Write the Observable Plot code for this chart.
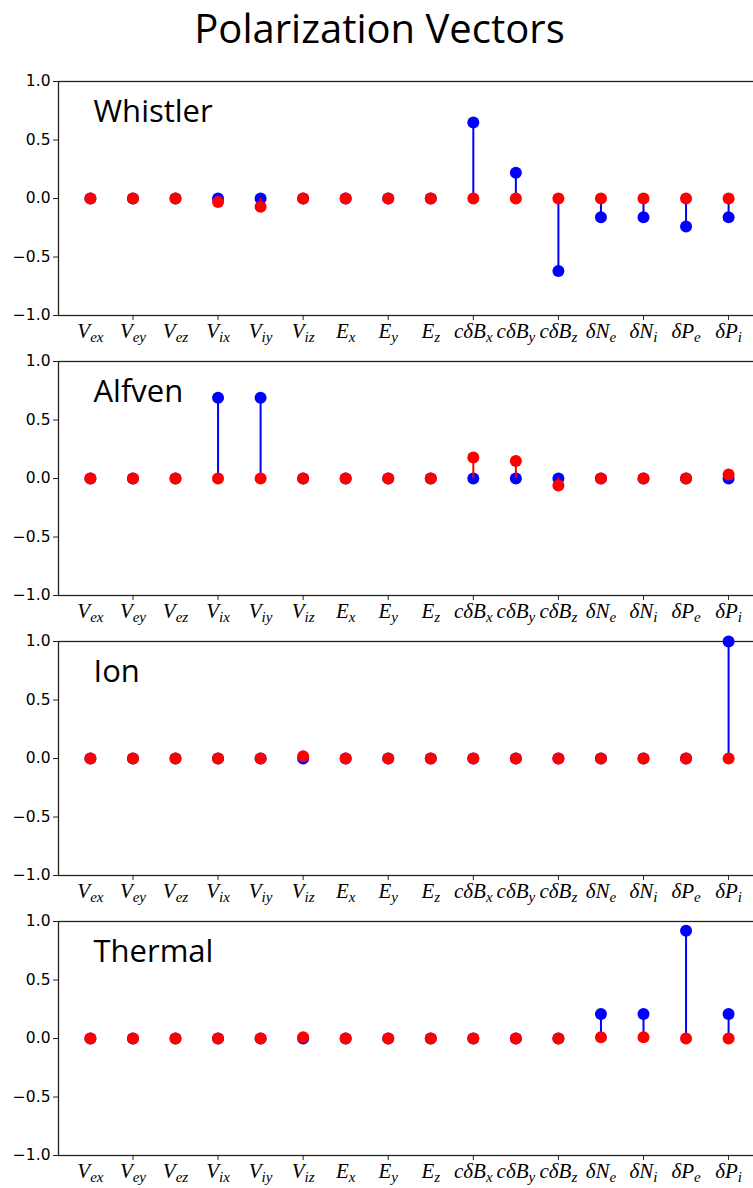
<!DOCTYPE html>
<html>
<head>
<meta charset="utf-8">
<script src="https://cdn.jsdelivr.net/npm/d3@7"></script>
<script src="https://cdn.jsdelivr.net/npm/@observablehq/plot@0.6"></script>
<style>
  html, body { margin: 0; padding: 0; background: #fff; overflow: hidden; }
  #title { width: 753px; height: 65px; text-align: center; font-family: "Open Sans", sans-serif; font-size: 40px; line-height: normal; color: #000; padding-left: 6px; box-sizing: border-box; }
  svg { overflow: visible; }
</style>
</head>
<body>
<div id="title">Polarization Vectors</div>
<div id="chart"></div>
<script>
// Categories (x labels): main symbol + subscript
const labelMain = ["V","V","V","V","V","V","E","E","E","cδB","cδB","cδB","δN","δN","δP","δP"];
const labelSub  = ["ex","ey","ez","ix","iy","iz","x","y","z","x","y","z","e","i","e","i"];
const keys = labelMain.map((m, i) => m + "_" + labelSub[i]);
const tickKeys = keys.filter((k, i) => i % 2 === 1);
const yTicks = [-1, -0.5, 0, 0.5, 1];

const modes = ["Whistler", "Alfven", "Ion", "Thermal"];
// Blue (real part) and red (imaginary part) components
const whistlerRe = [0,0,0,0,0,0,0,0,0,0.65,0.22,-0.62,-0.16,-0.16,-0.24,-0.16];
const whistlerIm = [0,0,0,-0.03,-0.07,0,0,0,0,0,0,0,0,0,0,0];
const alfvenRe   = [0,0,0,0.69,0.69,0,0,0,0,0,0,0,0,0,0,0];
const alfvenIm   = [0,0,0,0,0,0,0,0,0,0.18,0.15,-0.06,0,0,0,0.035];
const ionRe      = [0,0,0,0,0,0,0,0,0,0,0,0,0,0,0,1.0];
const ionIm      = [0,0,0,0,0,0.02,0,0,0,0,0,0,0,0,0,0];
const thermalRe  = [0,0,0,0,0,0,0,0,0,0,0,0,0.21,0.21,0.92,0.21];
const thermalIm  = [0,0,0,0,0,0.01,0,0,0,0,0,0,0.01,0.01,0,0];

const series = [[whistlerRe, whistlerIm],[alfvenRe, alfvenIm],[ionRe, ionIm],[thermalRe, thermalIm]];
const yFmt = d3.format(".1f");

function panel(name, re, im) {
  const dRe = keys.map((k, i) => ({k, v: re[i]}));
  const dIm = keys.map((k, i) => ({k, v: im[i]}));
  const svg = Plot.plot({
    width: 753, height: 280,
    marginTop: 16, marginBottom: 30, marginLeft: 58, marginRight: -7,
    style: {background: "#fff", color: "#000"},
    x: {type: "point", domain: keys, padding: 0.75, round: false, label: null},
    y: {domain: [-1, 1], label: null},
    marks: [
      Plot.frame({stroke: "#222", strokeWidth: 1.3}),
      Plot.ruleX(dRe, {x: "k", y1: 0, y2: "v", stroke: "#0000ff", strokeWidth: 2}),
      Plot.dot(dRe, {x: "k", y: "v", r: 6, fill: "#0000ff"}),
      Plot.ruleY([0], {x1: keys[0], x2: keys[keys.length - 1], stroke: "#000", strokeWidth: 3}),
      Plot.ruleX(dIm, {x: "k", y1: 0, y2: "v", stroke: "#ff0000", strokeWidth: 2}),
      Plot.dot(dIm, {x: "k", y: "v", r: 6, fill: "#ff0000"}),
      Plot.text([name], {frameAnchor: "top-left", textAnchor: "start", lineAnchor: "bottom", dx: 35, dy: 40, fontSize: 31, fontFamily: "Open Sans", fill: "#000"}),
      Plot.axisY({ticks: yTicks, tickFormat: () => "", tickSize: 5, stroke: "#222", label: null}),
      Plot.text(yTicks, {y: d => d, text: d => yFmt(d), frameAnchor: "left", textAnchor: "end", dx: -8, fontSize: 15.5, fontFamily: "DejaVu Sans", fill: "#000"}),
      Plot.axisX({ticks: tickKeys, tickSize: 5, tickFormat: () => "", stroke: "#222", label: null}),
      Plot.axisX({ticks: keys, tickSize: 0, tickPadding: 8, fill: "#000", label: null})
    ]
  });
  const ns = "http://www.w3.org/2000/svg";
  svg.querySelectorAll("text").forEach(t => {
    const idx = keys.indexOf(t.textContent);
    if (idx < 0) return;
    // Render math-style label with subscript
    t.textContent = "";
    t.setAttribute("font-family", "Liberation Serif");
    t.setAttribute("font-style", "italic");
    t.setAttribute("font-size", "21");
    const a = document.createElementNS(ns, "tspan");
    a.textContent = labelMain[idx];
    const b = document.createElementNS(ns, "tspan");
    b.textContent = labelSub[idx];
    b.setAttribute("font-size", "15");
    b.setAttribute("dy", "4");
    t.appendChild(a); t.appendChild(b);
  });
  return svg;
}

const chart = document.getElementById("chart");
modes.forEach((m, i) => chart.appendChild(panel(m, series[i][0], series[i][1])));
</script>
</body>
</html>
